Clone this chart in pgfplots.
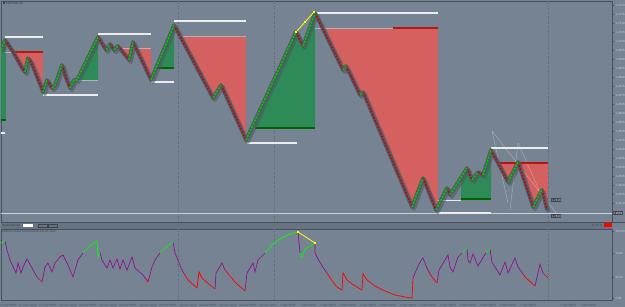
\documentclass[border=0pt]{standalone}
\usepackage{fontspec}
\setmainfont{Liberation Sans}
\usepackage{pgfplots}
\usepackage{pgfplotstable}
\pgfplotsset{compat=1.18}
\definecolor{bgc}{RGB}{118,131,146}
\definecolor{axc}{RGB}{72,82,94}
\definecolor{vdc}{RGB}{92,104,118}
\definecolor{hdrc}{RGB}{104,116,130}
\definecolor{txtc}{RGB}{200,208,216}
\definecolor{redf}{RGB}{212,96,96}
\definecolor{redl}{RGB}{178,24,24}
\definecolor{grnf}{RGB}{46,139,87}
\definecolor{grnl}{RGB}{0,100,0}
\definecolor{wl}{RGB}{236,236,236}
\definecolor{ll}{RGB}{170,180,190}
\definecolor{shc}{RGB}{78,86,96}
\definecolor{brr}{RGB}{200,0,0}
\definecolor{brg}{RGB}{0,200,0}
\definecolor{purp}{RGB}{140,20,140}
\definecolor{ired}{RGB}{255,0,0}
\definecolor{igrn}{RGB}{0,255,0}
\definecolor{yel}{RGB}{255,255,0}
\definecolor{boxc}{RGB}{60,68,78}
\newcommand{\tinyf}{\fontsize{3}{3.5}\selectfont}
\pgfplotstableread{
x y
1 50
5 40
13 52
22 68
25 72
28 58
31 62
43 92
47 80
52 88
55 85
62 65
66 78
70 88
74 80
77 80
98 37
106 50
110 44
114 50
118 46
129 60
133 42
151 80
174 25
213 98
221 85
246 140
296 32
303 46
315 13
343 70
346 66
360 95
363 92
412 207
423 178
436 210
447 188
450 195
467 168
472 180
478 172
483 175
491 150
508 182
518 162
533 207
542 190
547 210
}\pathdata
\begin{document}
\begin{tikzpicture}[x=1pt,y=1pt]
\useasboundingbox (0,0) rectangle (625,307);
\fill[bgc] (0,0) rectangle (625,307);
\begin{axis}[at={(1pt,306pt)}, anchor=north west, scale only axis,
  width=611pt, height=221pt, xmin=1, xmax=612, ymin=1, ymax=222, y dir=reverse,
  axis line style={draw=axc, line width=0.6pt},
  xtick=\empty, ytick pos=right, yticklabel pos=right, tick align=outside,
  major tick length=1.5pt, tick style={draw=axc},
  ytick={5,14,23,32,41,50,59,68,77,86,95,104,113,122,131,140,149,158,167,176,185,194,203},
  yticklabels={1.2720,1.2715,1.2710,1.2705,1.2700,1.2695,1.2690,1.2685,1.2680,1.2675,1.2670,1.2665,1.2660,1.2655,1.2650,1.2645,1.2640,1.2635,1.2630,1.2625,1.2620,1.2615,1.2610},
  yticklabel style={font=\tinyf, text=txtc, xshift=-1.5pt},
  unbounded coords=jump]
% vertical separators
\addplot[vdc, dash pattern=on 1pt off 1.5pt, line width=0.4pt] coordinates {(178,1) (178,222)};
\addplot[vdc, dash pattern=on 1pt off 1.5pt, line width=0.4pt] coordinates {(274,1) (274,222)};
\addplot[vdc, dash pattern=on 1pt off 1.5pt, line width=0.4pt] coordinates {(548,1) (548,222)};
% zones
\addplot[fill=grnf, draw=none] coordinates {(1,45) (5,40) (6,40) (6,120) (1,120)};
\addplot[fill=redf, draw=none] coordinates {(15,52) (15,55) (22,68) (25,72) (28,58) (31,62) (43,92) (43,52)};
\addplot[fill=grnf, draw=none] coordinates {(77,80) (98,37) (98,80)};
\addplot[fill=redf, draw=none] coordinates {(122,48) (122,51) (129,60) (132,48) (136,50) (151,80) (151,48)};
\addplot[fill=grnf, draw=none] coordinates {(156,68) (174,25) (174,68)};
\addplot[fill=redf, draw=none] coordinates {(179,36) (213,98) (221,85) (246,140) (246,36)};
\addplot[fill=grnf, draw=none] coordinates {(255,128) (255,121) (296,32) (303,46) (315,13) (315,128)};
\addplot[fill=redf, draw=none] coordinates {(322,28) (343,70) (346,66) (360,95) (363,92) (412,207) (423,178) (436,210) (438,210) (438,28)};
\addplot[fill=grnf, draw=none] coordinates {(461,199) (461,178) (467,168) (472,180) (478,172) (483,175) (491,150) (491,199)};
\addplot[fill=redf, draw=none] coordinates {(498,163) (508,182) (518,163) (533,207) (542,190) (547,210) (548,210) (548,163)};
% fib-like thin lines
\addplot[wl, opacity=0.55, line width=0.3pt] coordinates {(492,131) (508,203)};
\addplot[wl, opacity=0.55, line width=0.3pt] coordinates {(518,143) (510,210)};
\addplot[wl, opacity=0.55, line width=0.3pt] coordinates {(518,143) (548,210)};
\addplot[wl, opacity=0.55, line width=0.3pt] coordinates {(492,131) (557,214)};
% zone edge lines
\addplot[grnl, line width=1.2pt] coordinates {(1,120) (6,120) (nan,nan) (156,68) (174,68) (nan,nan) (255,128) (315,128) (nan,nan) (461,199) (491,199)};
\addplot[redl, line width=1.2pt] coordinates {(15,52) (43,52) (nan,nan) (393,28) (438,28) (nan,nan) (499,163) (548,163)};
\addplot[ll, line width=0.8pt] coordinates {(77,80) (98,80) (nan,nan) (122,48) (151,48) (nan,nan) (178,36) (246,36) (nan,nan) (315,28) (393,28) (nan,nan) (5,52) (15,52)};
% current price line
\addplot[txtc, line width=0.4pt] coordinates {(1,213) (612,213)};
% level lines
\addplot[wl, line width=1.3pt] coordinates {(5,37) (43,37) (nan,nan) (43,95) (98,95) (nan,nan) (98,34) (151,34) (nan,nan) (151,82) (174,82) (nan,nan) (174,21) (246,21) (nan,nan) (247,143) (297,143) (nan,nan) (315,13) (438,13) (nan,nan) (438,213) (491,213) (nan,nan) (491,148) (548,148) (nan,nan) (1,133) (5,133)};
\addplot[wl, line width=0.8pt] coordinates {(438,200) (461,200)};
% renko shadow (offset depth and body)
\addplot[shc, line width=4pt, opacity=0.55, line join=round, xshift=1.8pt, yshift=-2pt] table {\pathdata};
\addplot[shc, line width=3.6pt, opacity=0.9, line join=round] table {\pathdata};
% bricks down
\addplot[brr, line width=1.5pt, dash pattern=on 1.6pt off 1.8pt] coordinates {
(5,40) (13,52) (22,68) (25,72) (nan,nan)
(28,58) (31,62) (43,92) (nan,nan)
(47,80) (52,88) (nan,nan)
(62,65) (66,78) (70,88) (nan,nan)
(98,37) (106,50) (nan,nan)
(110,44) (114,50) (nan,nan)
(118,46) (129,60) (nan,nan)
(133,42) (151,80) (nan,nan)
(174,25) (213,98) (nan,nan)
(221,85) (246,140) (nan,nan)
(296,32) (303,46) (nan,nan)
(315,13) (343,70) (nan,nan)
(346,66) (360,95) (nan,nan)
(363,92) (412,207) (nan,nan)
(423,178) (436,210) (nan,nan)
(447,188) (450,195) (nan,nan)
(467,168) (472,180) (nan,nan)
(478,172) (483,175) (nan,nan)
(491,150) (508,182) (nan,nan)
(518,162) (533,207) (nan,nan)
(542,190) (547,210)};
% bricks up
\addplot[brg, line width=1.6pt, dash pattern=on 2.2pt off 1.2pt] coordinates {
(1,50) (5,40) (nan,nan)
(25,72) (28,58) (nan,nan)
(43,92) (47,80) (nan,nan)
(52,88) (55,85) (62,65) (nan,nan)
(70,88) (74,80) (77,80) (98,37) (nan,nan)
(106,50) (110,44) (nan,nan)
(114,50) (118,46) (nan,nan)
(129,60) (133,42) (nan,nan)
(151,80) (174,25) (nan,nan)
(213,98) (221,85) (nan,nan)
(246,140) (296,32) (nan,nan)
(303,46) (315,13) (nan,nan)
(343,70) (346,66) (nan,nan)
(360,95) (363,92) (nan,nan)
(412,207) (423,178) (nan,nan)
(436,210) (447,188) (nan,nan)
(450,195) (467,168) (nan,nan)
(472,180) (478,172) (nan,nan)
(483,175) (491,150) (nan,nan)
(508,182) (518,162) (nan,nan)
(533,207) (542,190)};
% yellow
\addplot[yel, line width=0.8pt, mark=square*, mark size=0.8pt] coordinates {(296,32) (305,22) (314,12)};
\end{axis}
% header bar
\fill[hdrc] (1,78) rectangle (612,85);
\draw[axc, line width=0.6pt] (1,85) -- (625,85);
\draw[axc, line width=0.6pt] (1,78) -- (612,78);
\node[anchor=west, font=\tinyf, text=boxc, inner sep=0] at (2,81.5) {Renko Bricks};
\fill[white] (23,80) rectangle (33,83);
\draw[boxc, line width=0.3pt] (38,80) rectangle (47,83);
\draw[boxc, line width=0.3pt] (48,80) rectangle (57,83);
\fill[ired] (604,80) rectangle (612,83.5);
\node[anchor=east, font=\tinyf, text=boxc, inner sep=0] at (602,81.5) {1 / 0 / 2};
% top-left label
\fill[boxc] (2.5,302.5) rectangle (4.5,304.5);
\node[anchor=west, font=\tinyf, text=boxc, inner sep=0] at (5.5,303.5) {GBPUSD,M2};
% price boxes
\node[anchor=west, fill=boxc, text=white, font=\tinyf, inner sep=0.6pt] at (612.5,94) {1.2602};
\node[anchor=west, fill=boxc, text=txtc, font=\tinyf, inner sep=0.5pt] at (551,107) {1.2616};
\node[anchor=west, fill=boxc, text=txtc, font=\tinyf, inner sep=0.5pt] at (551,91) {1.2600};
\begin{axis}[at={(1pt,78pt)}, anchor=north west, scale only axis,
  width=611pt, height=71pt, xmin=1, xmax=612, ymin=229, ymax=300, y dir=reverse,
  axis line style={draw=axc, line width=0.6pt},
  ytick pos=right, yticklabel pos=right, xtick pos=bottom, tick align=outside,
  major tick length=1.5pt, tick style={draw=axc},
  ytick={231,253,277,298}, yticklabels={100.00,70.00,30.00,0.00},
  yticklabel style={font=\tinyf, text=txtc, xshift=-1.5pt},
  xtick={8,28,48,68,88,108,128,148,168,188,208,228,248,268,288,308,328,348,368,388,408,428,448,468,488,508,528,568,588},
  xticklabels={27 Nov 2023,27 Nov 2023,27 Nov 2023,28 Nov 2023,28 Nov 2023,28 Nov 2023,28 Nov 2023,29 Nov 2023,29 Nov 2023,29 Nov 2023,30 Nov 2023,30 Nov 2023,30 Nov 2023,30 Nov 2023,1 Dec 2023,1 Dec 2023,1 Dec 2023,4 Dec 2023,4 Dec 2023,4 Dec 2023,5 Dec 2023,5 Dec 2023,5 Dec 2023,6 Dec 2023,6 Dec 2023,6 Dec 2023,7 Dec 2023,7 Dec 2023,7 Dec 2023},
  xticklabel style={font=\tinyf, text=axc, yshift=1pt},
  unbounded coords=jump]
\addplot[vdc, dash pattern=on 1pt off 1.5pt, line width=0.4pt] coordinates {(178,229) (178,300)};
\addplot[vdc, dash pattern=on 1pt off 1.5pt, line width=0.4pt] coordinates {(274,229) (274,300)};
\addplot[vdc, dash pattern=on 1pt off 1.5pt, line width=0.4pt] coordinates {(548,229) (548,300)};
\addplot[purp, line width=0.7pt] coordinates {
(5,241) (7,250) (10,260) (16,273) (18,263) (21,273) (23,267) (27,259) (32,268) (37,277) (39,279) (nan,nan)
(42,282) (45,267) (48,263) (52,272) (55,263) (60,257) (63,255) (68,265) (73,277) (78,260) (83,253) (nan,nan)
(100,252) (102,260) (107,268) (110,260) (113,268) (117,259) (120,269) (123,260) (127,270) (132,257) (135,268) (143,275) (146,279) (nan,nan)
(148,282) (152,267) (155,260) (160,253) (nan,nan)
(173,242) (175,253) (182,270) (185,275) (nan,nan)
(215,289) (216,273) (222,263) (225,270) (nan,nan)
(245,291) (247,273) (253,263) (255,272) (258,260) (265,253) (nan,nan)
(298,232) (300,253) (nan,nan)
(315,243) (315,253) (317,257) (322,266) (327,273) (nan,nan)
(413,278) (415,273) (420,262) (423,258) (427,268) (430,274) (nan,nan)
(437,283) (439,270) (448,255) (450,267) (453,272) (458,257) (462,253) (nan,nan)
(467,248) (468,260) (470,263) (473,254) (478,266) (484,256) (486,253) (nan,nan)
(490,249) (492,262) (500,275) (505,262) (508,273) (515,258) (518,267) (523,274) (nan,nan)
(535,286) (540,264) (543,273) (545,275)};
\addplot[ired, line width=0.7pt] coordinates {
(39,279) (42,282) (nan,nan)
(146,279) (148,282) (nan,nan)
(185,275) (188,280) (197,288) (199,272) (202,278) (210,285) (215,289) (nan,nan)
(225,270) (235,282) (245,291) (nan,nan)
(327,273) (333,282) (337,287) (342,290) (343,273) (347,280) (352,284) (357,287) (362,290) (363,274) (367,280) (375,286) (385,291) (395,295) (405,297) (412,298) (413,278) (nan,nan)
(430,274) (432,277) (437,283) (nan,nan)
(523,274) (525,277) (535,286) (nan,nan)
(545,275) (548,278)};
\addplot[igrn, line width=0.7pt] coordinates {
(1,243) (5,241) (nan,nan)
(83,253) (90,246) (97,241) (98,257) (100,252) (nan,nan)
(160,253) (166,247) (173,242) (nan,nan)
(265,253) (272,245) (280,239) (290,234) (298,232) (nan,nan)
(300,253) (302,257) (305,249) (310,246) (315,243) (nan,nan)
(462,253) (467,248) (nan,nan)
(486,253) (490,249)};
\addplot[yel, line width=0.8pt, mark=square*, mark size=0.8pt] coordinates {(298,232) (315,243)};
\end{axis}
\node[anchor=west, font=\tinyf, text=boxc, inner sep=0] at (2,75) {RSI(14) Cross Line levels(0.14) 48.7382};
\end{tikzpicture}
\end{document}
